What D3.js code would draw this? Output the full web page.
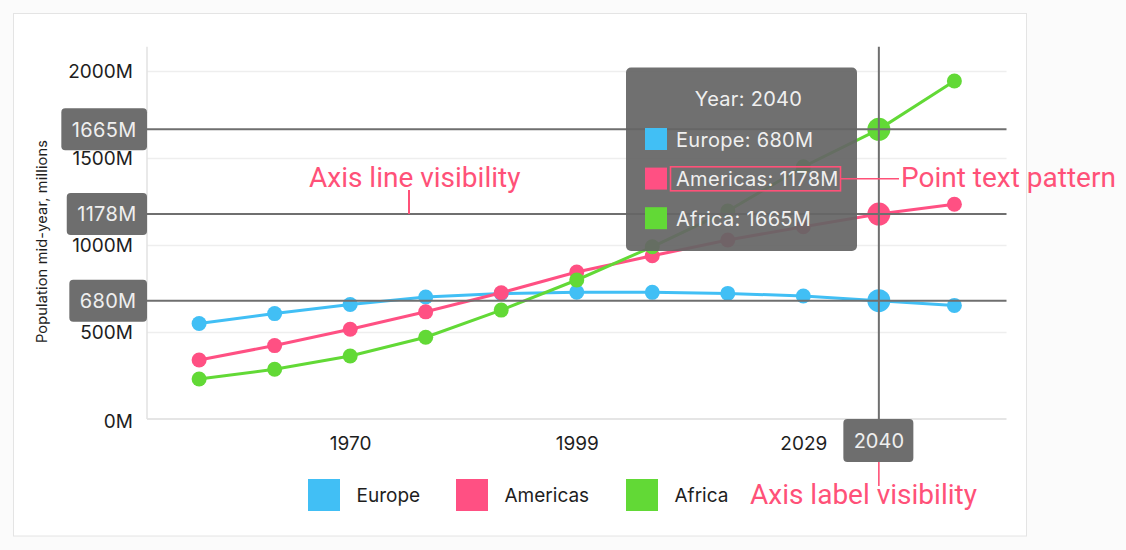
<!DOCTYPE html>
<html>
<head>
<meta charset="utf-8">
<script src="https://cdn.jsdelivr.net/npm/d3@7"></script>
<style>
  html, body { margin: 0; padding: 0; background: #fbfbfb; }
  svg { display: block; }
</style>
</head>
<body>
<svg id="chart" width="1126" height="550"></svg>
<script>
// ---------- data ----------
const years = [1950, 1960, 1970, 1980, 1990, 2000, 2010, 2020, 2030, 2040, 2050];
const europe = [549, 606, 658, 701, 721, 729, 728, 722, 707, 680, 653];
const americas = [339, 422, 516, 616, 726, 845, 938, 1029, 1105, 1178, 1234];
const africa = [230, 286, 362, 470, 626, 799, 990, 1196, 1450, 1665, 1943];
const seriesNames = ["Europe", "Americas", "Africa"];
const seriesColors = ["#41BFF5", "#FF5083", "#62D936"];
const yTickValues = [0, 500, 1000, 1500, 2000];
const xTickValues = [1970, 2000, 2030];
const xTickLabels = ["1970", "1999", "2029"];
const selectedYear = 2040;
const yTitle = "Population mid-year, millions";
const annotations = {
  axisLine: "Axis line visibility",
  pointText: "Point text pattern",
  axisLabel: "Axis label visibility"
};

// ---------- layout ----------
const svg = d3.select("#chart");
const pLeft = 147, pRight = 1006.5, pTop = 46.7, pBottom = 419;
const FONT = "Inter, 'Noto Sans', sans-serif";
const AFONT = "Roboto, 'Noto Sans', sans-serif";
const PINK = "#FF5178";
const CROSS = "#6f6f6f";

const x = d3.scaleLinear().domain([1943.1, 2056.9]).range([pLeft, pRight]);
const y = d3.scaleLinear().domain([0, 2140]).range([pBottom, pTop]);

const series = seriesNames.map((name, i) => ({
  name, color: seriesColors[i],
  values: [europe, americas, africa][i].map((v, j) => ({ year: years[j], value: v }))
}));

// card
svg.append("rect").attr("x", 13.5).attr("y", 13.5).attr("width", 1013).attr("height", 522.5)
  .attr("fill", "#ffffff").attr("stroke", "#e4e4e4").attr("stroke-width", 1);

// gridlines
const grid = svg.append("g").attr("transform", `translate(${pLeft},0)`)
  .call(d3.axisLeft(y).tickValues(yTickValues.filter(d => d > 0)).tickSize(-(pRight - pLeft)).tickFormat(""));
grid.select(".domain").remove();
grid.selectAll("line").attr("stroke", "#eeeeee").attr("stroke-width", 1.5);

// axis lines
svg.append("line").attr("x1", pLeft).attr("x2", pRight).attr("y1", y(0)).attr("y2", y(0))
  .attr("stroke", "#dcdcdc").attr("stroke-width", 1.5);
svg.append("line").attr("x1", pLeft).attr("x2", pLeft).attr("y1", pTop).attr("y2", y(0))
  .attr("stroke", "#e2e2e2").attr("stroke-width", 1.5);

// y axis labels
const yAxis = svg.append("g").attr("transform", `translate(${pLeft - 14},0)`)
  .call(d3.axisLeft(y).tickValues(yTickValues).tickSize(0).tickPadding(0).tickFormat(d => d + "M"));
yAxis.select(".domain").remove();
yAxis.selectAll("text").attr("font-family", FONT).attr("font-size", 19).attr("fill", "#1e1e1e")
  .attr("dy", "0.36em").attr("y", d => d === 0 ? 2 : 0);

// x axis labels
const xAxis = svg.append("g").attr("transform", `translate(0,${pBottom})`)
  .call(d3.axisBottom(x).tickValues(xTickValues).tickSize(0).tickPadding(0)
    .tickFormat((d, i) => xTickLabels[i]));
xAxis.select(".domain").remove();
xAxis.selectAll("text").attr("font-family", FONT).attr("font-size", 19).attr("fill", "#1e1e1e")
  .attr("dy", "0").attr("y", 31);

// y title
svg.append("text").attr("transform", `translate(46.5,241.5) rotate(-90)`)
  .attr("text-anchor", "middle").attr("font-family", FONT).attr("font-size", 14.5).attr("fill", "#1e1e1e")
  .attr("letter-spacing", 0.2).text(yTitle);

// series
const line = d3.line().x(d => x(d.year)).y(d => y(d.value));
series.forEach(s => {
  const g = svg.append("g");
  g.append("path").datum(s.values).attr("d", line).attr("fill", "none")
    .attr("stroke", s.color).attr("stroke-width", 3);
  g.selectAll("circle").data(s.values).join("circle")
    .attr("cx", d => x(d.year)).attr("cy", d => y(d.value))
    .attr("r", d => d.year === selectedYear ? 11.5 : 7.5)
    .attr("fill", s.color);
});

// crosshair
const selIdx = years.indexOf(selectedYear);
const selVals = series.map(s => s.values[selIdx].value);
const ch = svg.append("g");
ch.append("line").attr("x1", x(selectedYear)).attr("x2", x(selectedYear)).attr("y1", pTop).attr("y2", pBottom + 1)
  .attr("stroke", CROSS).attr("stroke-width", 2);
selVals.forEach(v => {
  ch.append("line").attr("x1", pLeft).attr("x2", pRight).attr("y1", y(v)).attr("y2", y(v))
    .attr("stroke", CROSS).attr("stroke-width", 2);
});

// crosshair y labels
selVals.forEach(v => {
  const g = svg.append("g");
  const t = g.append("text").attr("font-family", FONT).attr("font-size", 20).attr("fill", "#efefef")
    .attr("letter-spacing", 0.3)
    .attr("text-anchor", "end").attr("x", pLeft - 10.5).attr("y", y(v)).attr("dy", "0.36em").text(v + "M");
  const w = t.node().getComputedTextLength();
  g.insert("rect", "text").attr("x", pLeft - w - 21).attr("y", y(v) - 21).attr("width", w + 21).attr("height", 42)
    .attr("rx", 4).attr("fill", "#6e6e6e");
});

// crosshair x label
{
  const cx = x(selectedYear);
  const g = svg.append("g");
  g.append("rect").attr("x", cx - 35.5).attr("y", pBottom).attr("width", 70).attr("height", 43)
    .attr("rx", 4).attr("fill", "#6e6e6e");
  g.append("text").attr("x", cx).attr("y", pBottom + 22).attr("dy", "0.36em").attr("text-anchor", "middle")
    .attr("font-family", FONT).attr("font-size", 20).attr("fill", "#efefef").text(String(selectedYear));
}

// tooltip
const tip = svg.append("g").attr("transform", "translate(626,67.5)");
tip.append("rect").attr("width", 231).attr("height", 183.5).attr("rx", 5)
  .attr("fill", "#656565").attr("fill-opacity", 0.93);
tip.append("text").attr("x", 122.5).attr("y", 38.5).attr("text-anchor", "middle")
  .attr("font-family", FONT).attr("font-size", 20).attr("letter-spacing", 0.3)
  .attr("fill", "#efefef").text("Year: " + selectedYear);
series.forEach((s, i) => {
  const ry = 60.5 + i * 39.6;
  tip.append("rect").attr("x", 19).attr("y", ry).attr("width", 22).attr("height", 22).attr("fill", s.color);
  tip.append("text").attr("x", 50).attr("y", ry + 18.8)
    .attr("font-family", FONT).attr("font-size", 20).attr("letter-spacing", 0.3).attr("fill", "#efefef")
    .text(`${s.name}: ${selVals[i]}M`);
});

// legend
const legendX = [308, 456, 626];
const leg = svg.append("g");
series.forEach((s, i) => {
  leg.append("rect").attr("x", legendX[i]).attr("y", 479).attr("width", 32).attr("height", 32).attr("fill", s.color);
  leg.append("text").attr("x", legendX[i] + 48.5).attr("y", 495).attr("dy", "0.36em")
    .attr("font-family", FONT).attr("font-size", 19).attr("fill", "#1e1e1e").text(s.name);
});

// annotations
const ann = svg.append("g");
ann.append("text").attr("x", 309).attr("y", 187.3).attr("font-family", AFONT).attr("font-size", 28)
  .attr("fill", PINK).text(annotations.axisLine);
ann.append("line").attr("x1", 409).attr("x2", 409).attr("y1", 190).attr("y2", y(selVals[1]))
  .attr("stroke", PINK).attr("stroke-width", 2);
ann.append("rect").attr("x", 670.5).attr("y", 166.8).attr("width", 170).attr("height", 24)
  .attr("fill", "none").attr("stroke", PINK).attr("stroke-width", 1.6);
ann.append("line").attr("x1", 840.5).attr("x2", 899).attr("y1", 178.8).attr("y2", 178.8)
  .attr("stroke", PINK).attr("stroke-width", 1.6);
ann.append("text").attr("x", 901).attr("y", 187.3).attr("font-family", AFONT).attr("font-size", 28)
  .attr("fill", PINK).text(annotations.pointText);
ann.append("line").attr("x1", x(selectedYear)).attr("x2", x(selectedYear)).attr("y1", 462).attr("y2", 486)
  .attr("stroke", PINK).attr("stroke-width", 1.6);
ann.append("text").attr("x", 750).attr("y", 503.5).attr("font-family", AFONT).attr("font-size", 28)
  .attr("fill", PINK).text(annotations.axisLabel);
</script>
</body>
</html>
